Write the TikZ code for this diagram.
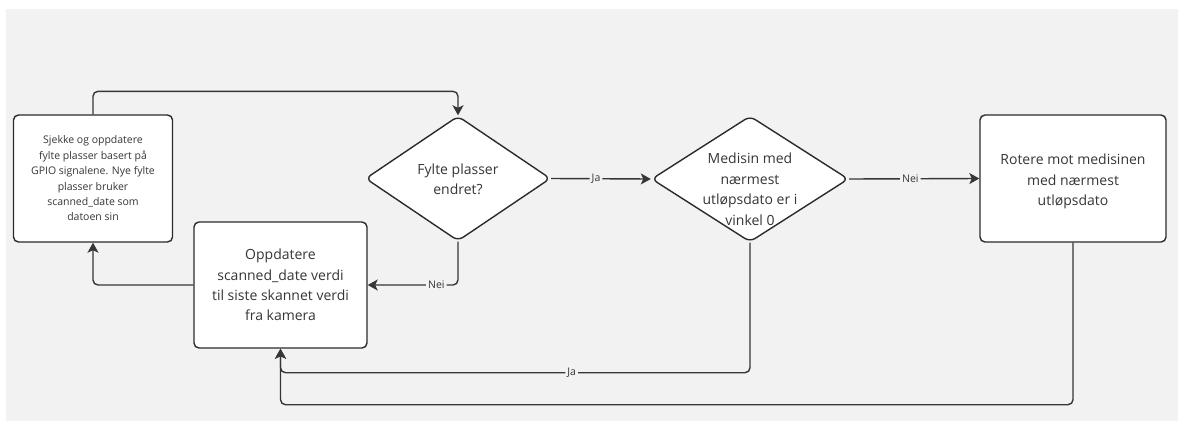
\documentclass[tikz,border=0pt]{standalone}
\usepackage{fontspec}
\setmainfont{Open Sans}
\usetikzlibrary{shapes.geometric,arrows.meta,calc}
\definecolor{canvas}{HTML}{F2F2F2}
\definecolor{ink}{HTML}{363636}
\definecolor{edge}{HTML}{2B2B2B}

\begin{document}
\begin{tikzpicture}[x=1pt,y=-1pt,
  procbox/.style={draw=edge, fill=white, line width=1.4pt, rounded corners=5pt,
    inner sep=0pt, align=center, text=ink},
  decision/.style={draw=edge, fill=white, line width=1.4pt, rounded corners=6pt,
    diamond, inner sep=0pt},
  dtext/.style={align=center, text=ink, inner sep=0pt,
    font=\fontsize{14}{20.5}\selectfont},
  flow/.style={draw=ink, line width=1.4pt, rounded corners=5pt,
    -{Stealth[length=10pt,width=11pt,inset=2.5pt]}},
  tag/.style={fill=canvas, inner sep=2pt, text=ink,
    font=\fontsize{10.5}{12}\selectfont},
]
% canvas
\useasboundingbox (0,0) rectangle (1178,421);
\fill[white] (0,0) rectangle (1178,421);
\fill[canvas] (6,9) rectangle (1178,421);

% process boxes
\node[procbox, minimum width=159pt, minimum height=127pt,
      font=\fontsize{10.5}{15.4}\selectfont] (check) at (93,178.5)
  {Sjekke og oppdatere\\fylte plasser basert på\\GPIO signalene. Nye fylte\\plasser bruker\\scanned\_date som\\datoen sin};
\node[procbox, minimum width=173pt, minimum height=126pt,
      font=\fontsize{14}{20.3}\selectfont] (upd) at (280.5,285)
  {Oppdatere\\scanned\_date verdi\\til siste skannet verdi\\fra kamera};
\node[procbox, minimum width=186pt, minimum height=127pt] (rot) at (1073,178.5) {};
\node[dtext] (rottext) at ($(rot.center)+(0,3)$)
  {Rotere mot medisinen\\med nærmest\\utløpsdato};

% decisions
\node[decision, minimum width=185pt, minimum height=125pt] (d1) at (458,178.5) {};
\node[dtext] (d1text) at ($(d1.center)+(0,1)$) {Fylte plasser\\endret?};
\node[decision, minimum width=197pt, minimum height=126pt] (d2) at (750,179) {};
\node[dtext] (d2text) at ($(d2.center)+(0,10)$)
  {Medisin med\\nærmest\\utløpsdato er i\\vinkel 0};

% connectors
\draw[flow] (check.north) |- ($(d1.north)+(0,-24)$) -- (d1.north);
\draw[flow] (d1.east) -- node[tag, pos=0.45]{Ja} (d2.west);
\draw[flow] (d2.east) -- node[tag, pos=0.47]{Nei} (rot.west);
\draw[flow] (d1.south) |- node[tag, pos=0.62]{Nei} (upd.east);
\draw[flow] (upd.west) -| (check.south);
\draw[flow] (rot.south) |- ($(upd.south)+(0,56)$) -- (upd.south);
\draw[flow] (d2.south) |- node[tag, pos=0.69]{Ja} ($(upd.south)+(0,24)$) -- (upd.south);
\end{tikzpicture}
\end{document}
